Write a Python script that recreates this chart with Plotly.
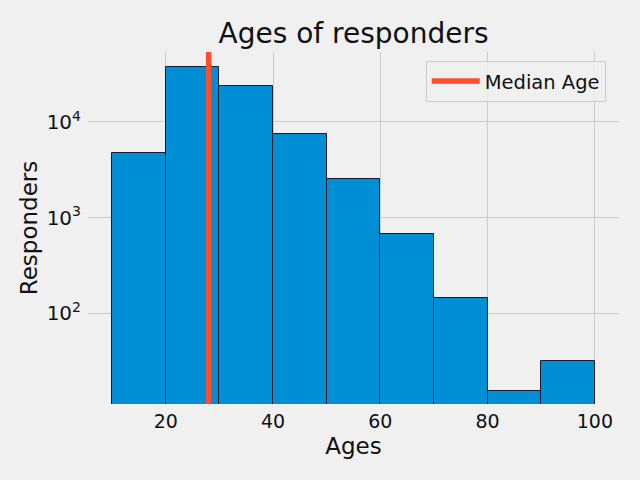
import plotly.graph_objects as go

bin_edges = [10, 20, 30, 40, 50, 60, 70, 80, 90, 100]
counts = [4780, 37300, 23900, 7430, 2535, 681, 143, 15.4, 31.8]
median_age = 28
x_ticks = [20, 40, 60, 80, 100]

lefts = bin_edges[:-1]
widths = [b - a for a, b in zip(bin_edges[:-1], bin_edges[1:])]

fig = go.Figure()
fig.add_trace(go.Bar(
    x=lefts, y=counts, width=widths, offset=0,
    marker=dict(color="#008fd5", line=dict(color="#1a1a2e", width=1)),
    showlegend=False,
))
fig.add_shape(type="line", x0=median_age, x1=median_age, y0=0, y1=1,
              xref="x", yref="y domain", layer="above",
              line=dict(color="#fc4f30", width=5.5),
              showlegend=True, name="Median Age")

fig.update_layout(
    width=640, height=480,
    paper_bgcolor="#f0f0f0", plot_bgcolor="#f0f0f0",
    margin=dict(l=88, r=21, t=52, b=76),
    bargap=0,
    font=dict(family="DejaVu Sans", color="#111111", size=19),
    title=dict(text="Ages of responders", x=0.5, xref="paper", xanchor="center",
               y=1 - 33 / 480, yref="container", yanchor="middle",
               font=dict(size=28)),
    xaxis=dict(range=[5.5, 104.5], tickvals=x_ticks, showline=False, zeroline=False,
               gridcolor="#cbcbcb", gridwidth=1, ticks="",
               ticklabelstandoff=4,
               title=dict(text="Ages", font=dict(size=23), standoff=6)),
    yaxis=dict(type="log", range=[1.052, 4.731], dtick=1, tick0=0,
               exponentformat="power", showline=False, zeroline=False,
               gridcolor="#cbcbcb", gridwidth=1, ticks="",
               ticklabelstandoff=6, tickfont=dict(size=16),
               title=dict(text="Responders", font=dict(size=23), standoff=2)),
    legend=dict(x=0.636, y=0.975, xanchor="left", yanchor="top",
                bgcolor="rgba(240,240,240,0.8)", bordercolor="#cccccc", borderwidth=1,
                itemwidth=48, font=dict(size=19.5)),
)

fig.write_html("out.html", config={"displayModeBar": False},
               post_script="document.body.style.margin='0';document.body.style.background='#f0f0f0';")
